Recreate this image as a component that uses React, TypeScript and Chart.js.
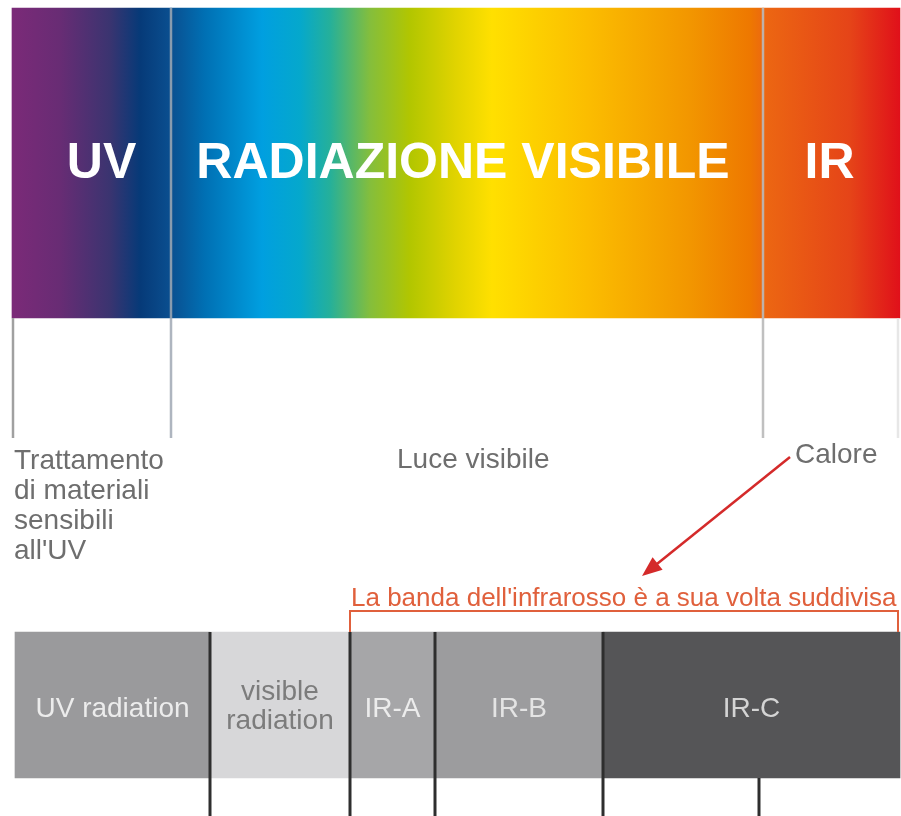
import React, { useEffect, useRef } from 'react';
import { Chart, registerables } from 'chart.js';

Chart.register(...registerables);

// ---------- DATA ----------
const spectrumLabels = ['UV', 'RADIAZIONE VISIBILE', 'IR'];
const spectrumEdges = [12, 171, 763, 900];
const spectrumUses = [
  ['Trattamento', 'di materiali', 'sensibili', "all'UV"],
  ['Luce visibile'],
  ['Calore'],
];
const subBandLabels = [['UV radiation'], ['visible', 'radiation'], ['IR-A'], ['IR-B'], ['IR-C']];
const subBandEdges = [15, 210, 350, 435, 603, 900];
const subBandTicks = [210, 350, 435, 603, 759];
const irNote = "La banda dell'infrarosso è a sua volta suddivisa";
const irRange = [350, 898];

// ---------- LAYOUT / STYLE ----------
const W = 901;
const H = 816;
const SPECTRUM_TOP = 8;
const SPECTRUM_BOTTOM = 318;
const GUIDE_BOTTOM = 438;
const BAND_TOP = 632;
const BAND_BOTTOM = 778;
const FONT = '"Liberation Sans", Arial, sans-serif';

const GRADIENT_STOPS: [number, string][] = [
  [12, '#7b2a78'],
  [60, '#682c74'],
  [110, '#3a3470'],
  [140, '#063a78'],
  [171, '#0a4f90'],
  [205, '#0070b4'],
  [262, '#009fe0'],
  [300, '#05a8cc'],
  [330, '#25b09a'],
  [370, '#84be3c'],
  [410, '#b2c600'],
  [455, '#e0d300'],
  [492, '#ffe000'],
  [535, '#fdd000'],
  [590, '#fbbc00'],
  [690, '#f29600'],
  [750, '#ee7800'],
  [766, '#ec6612'],
  [850, '#e54418'],
  [900, '#e0101a'],
];
const SUB_COLORS = ['#9a9a9c', '#d7d7d9', '#a6a6a8', '#9c9c9e', '#555557'];
const SUB_TEXT = ['#ececec', '#7c7c7c', '#ececec', '#e4e4e4', '#d4d4d4'];
const SPECTRUM_LABEL_DX = [10, -4, -2];
const GUIDE_COLORS = ['#a0a0a0', 'rgba(160,168,180,0.85)', 'rgba(185,185,185,0.9)', 'rgba(225,225,225,0.8)'];
const USE_POS: [number, number, CanvasTextAlign][] = [
  [14, 469, 'left'],
  [397, 468, 'left'],
  [795, 463, 'left'],
];
const ARROW_FROM = [790, 457];
const ARROW_TO = [642, 576];
const RED = '#e0603c';
const ARROW_RED = '#d42a2a';

let gradCache: { key: string; g: CanvasGradient } | null = null;
function spectrumGradient(chart: any) {
  const xs = chart.scales && chart.scales.x;
  if (!xs || !chart.chartArea) return GRADIENT_STOPS[0][1];
  const x0 = xs.getPixelForValue(spectrumEdges[0]);
  const x1 = xs.getPixelForValue(spectrumEdges[spectrumEdges.length - 1]);
  if (!isFinite(x0) || !isFinite(x1) || x1 === x0) return GRADIENT_STOPS[0][1];
  const key = `${x0}-${x1}`;
  if (gradCache && gradCache.key === key) return gradCache.g;
  const g = chart.ctx.createLinearGradient(x0, 0, x1, 0);
  for (const [p, c] of GRADIENT_STOPS) {
    const px = xs.getPixelForValue(p);
    g.addColorStop(Math.min(1, Math.max(0, (px - x0) / (x1 - x0))), c);
  }
  gradCache = { key, g };
  return g;
}

const overlayPlugin = {
  id: 'spectrumOverlay',
  afterDatasetsDraw(chart: any) {
    const { ctx, scales } = chart;
    const xs = scales.x;
    const ys = scales.y;
    const X = (v: number) => xs.getPixelForValue(v);
    const Y = (v: number) => ys.getPixelForValue(v);
    ctx.save();

    // guide lines of the spectrum
    spectrumEdges.forEach((e, i) => {
      const inner = i > 0 && i < spectrumEdges.length - 1;
      const dx = i === 0 ? 1 : i === spectrumEdges.length - 1 ? -2 : 0;
      ctx.strokeStyle = GUIDE_COLORS[i];
      ctx.lineWidth = 2.5;
      ctx.beginPath();
      ctx.moveTo(X(e) + dx, Y(inner ? SPECTRUM_TOP : SPECTRUM_BOTTOM));
      ctx.lineTo(X(e) + dx, Y(GUIDE_BOTTOM));
      ctx.stroke();
    });

    // big spectrum labels
    ctx.fillStyle = '#ffffff';
    ctx.font = `bold 50px ${FONT}`;
    ctx.textAlign = 'center';
    ctx.textBaseline = 'alphabetic';
    spectrumLabels.forEach((l, i) => {
      const cx = (X(spectrumEdges[i]) + X(spectrumEdges[i + 1])) / 2 + SPECTRUM_LABEL_DX[i];
      ctx.fillText(l, cx, Y(178));
    });

    // uses
    ctx.fillStyle = '#6e6e6e';
    ctx.font = `28px ${FONT}`;
    spectrumUses.forEach((lines, i) => {
      const [x, y, align] = USE_POS[i];
      ctx.textAlign = align;
      lines.forEach((ln, j) => ctx.fillText(ln, x, Y(y + j * 30)));
    });

    // arrow
    const [ax, ay] = [X(ARROW_FROM[0]), Y(ARROW_FROM[1])];
    const [bx, by] = [X(ARROW_TO[0]), Y(ARROW_TO[1])];
    const ang = Math.atan2(by - ay, bx - ax);
    ctx.strokeStyle = ARROW_RED;
    ctx.lineWidth = 2.5;
    ctx.beginPath();
    ctx.moveTo(ax, ay);
    ctx.lineTo(bx - Math.cos(ang) * 12, by - Math.sin(ang) * 12);
    ctx.stroke();
    ctx.fillStyle = ARROW_RED;
    ctx.beginPath();
    ctx.moveTo(bx, by);
    ctx.lineTo(bx - Math.cos(ang) * 20 + Math.sin(ang) * 8, by - Math.sin(ang) * 20 - Math.cos(ang) * 8);
    ctx.lineTo(bx - Math.cos(ang) * 20 - Math.sin(ang) * 8, by - Math.sin(ang) * 20 + Math.cos(ang) * 8);
    ctx.closePath();
    ctx.fill();

    // IR note + bracket
    const rx0 = X(irRange[0]);
    const rx1 = X(irRange[1]);
    ctx.fillStyle = RED;
    ctx.font = `26px ${FONT}`;
    ctx.textAlign = 'left';
    ctx.fillText(irNote, rx0 + 1, Y(606), rx1 - rx0 - 1);
    ctx.strokeStyle = RED;
    ctx.lineWidth = 2;
    ctx.beginPath();
    ctx.moveTo(rx0, Y(BAND_TOP));
    ctx.lineTo(rx0, Y(611));
    ctx.lineTo(rx1, Y(611));
    ctx.lineTo(rx1, Y(BAND_TOP));
    ctx.stroke();

    // sub-band ticks
    ctx.strokeStyle = '#2e2e2e';
    ctx.lineWidth = 3;
    subBandTicks.forEach((t) => {
      const isEdge = subBandEdges.indexOf(t) > 0;
      ctx.beginPath();
      ctx.moveTo(X(t), Y(isEdge ? BAND_TOP : BAND_BOTTOM));
      ctx.lineTo(X(t), Y(H));
      ctx.stroke();
    });

    // sub-band labels
    ctx.font = `28px ${FONT}`;
    ctx.textAlign = 'center';
    subBandLabels.forEach((lines, i) => {
      const cx = (X(subBandEdges[i]) + X(subBandEdges[i + 1])) / 2;
      ctx.fillStyle = SUB_TEXT[i];
      const base = lines.length === 1 ? 717 : 700;
      lines.forEach((ln, j) => ctx.fillText(ln, cx, Y(base + j * 29)));
    });

    ctx.restore();
  },
};

export default function App() {
  const ref = useRef<HTMLCanvasElement | null>(null);
  useEffect(() => {
    if (!ref.current) return;
    const chart = new Chart(ref.current, {
      type: 'bar',
      data: {
        datasets: [
          {
            label: 'Spettro',
            data: spectrumLabels.map((_, i) => ({
              x: [spectrumEdges[i], spectrumEdges[i + 1]],
              y: (SPECTRUM_TOP + SPECTRUM_BOTTOM) / 2,
            })) as any,
            backgroundColor: (c: any) => spectrumGradient(c.chart),
            barThickness: SPECTRUM_BOTTOM - SPECTRUM_TOP,
            borderWidth: 0,
            stack: 'rows',
          },
          {
            label: 'Bande',
            data: subBandLabels.map((_, i) => ({
              x: [subBandEdges[i], subBandEdges[i + 1]],
              y: (BAND_TOP + BAND_BOTTOM) / 2,
            })) as any,
            backgroundColor: SUB_COLORS,
            barThickness: BAND_BOTTOM - BAND_TOP,
            borderWidth: 0,
            stack: 'rows',
          },
        ],
      },
      options: {
        indexAxis: 'y',
        animation: false,
        responsive: false,
        events: [],
        layout: { padding: 0 },
        plugins: { legend: { display: false }, tooltip: { enabled: false } },
        scales: {
          x: { type: 'linear', min: 0, max: W, display: false, stacked: false, offset: false },
          y: { type: 'linear', min: 0, max: H, reverse: true, display: false, offset: false, grid: { offset: false } },
        },
      } as any,
      plugins: [overlayPlugin],
    });
    return () => chart.destroy();
  }, []);
  return (
    <div style={{ position: 'absolute', left: 0, top: 0, width: W, height: H, background: '#fff' }}>
      <canvas ref={ref} width={W} height={H} style={{ display: 'block' }} />
    </div>
  );
}
